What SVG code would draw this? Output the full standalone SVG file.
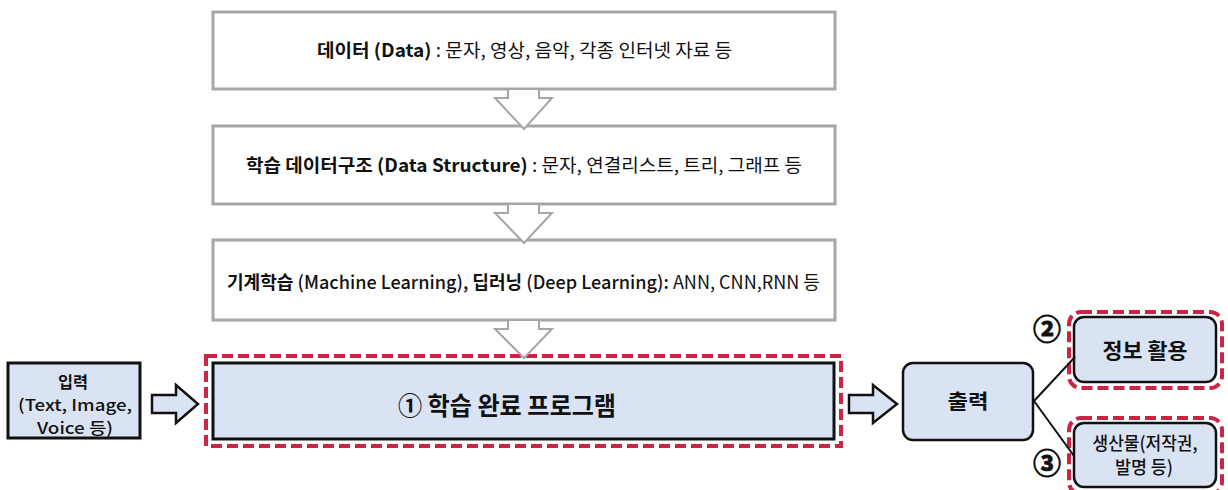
<svg xmlns="http://www.w3.org/2000/svg" width="1228" height="490" viewBox="0 0 1228 490">
  <style>
    text { font-family: "Noto Sans CJK KR", "Noto Sans", sans-serif; fill: #111; }
    .b { font-weight: 700; }
    .m { font-weight: 500; }
    .r { font-weight: 400; }
    .num { font-weight: 700; stroke: #111; stroke-width: 0.9; }
    .stage { fill: #ffffff; stroke: #a6a6a6; stroke-width: 3; }
    .down { fill: #ffffff; stroke: #a6a6a6; stroke-width: 2; stroke-linejoin: miter; }
    .blue { fill: #dae3f3; stroke: #111; stroke-width: 3; }
    .blueR { fill: #dae3f3; stroke: #111; stroke-width: 2.5; }
    .hl { fill: none; stroke: #cc2446; stroke-width: 4; stroke-dasharray: 11 5; }
    .fat { fill: #dae3f3; stroke: #111; stroke-width: 2.5; stroke-linejoin: miter; }
    .link { stroke: #111; stroke-width: 2; fill: none; }
  </style>

  <!-- stage 1: data -->
  <g id="node-data">
    <rect class="stage" x="213" y="12" width="622" height="77"/>
    <text x="317" y="57" font-size="18" textLength="415" lengthAdjust="spacingAndGlyphs"><tspan class="b">데이터 (Data)</tspan><tspan class="r"> : 문자, 영상, 음악, 각종 인터넷 자료 등</tspan></text>
  </g>

  <!-- stage 2: data structure -->
  <g id="node-structure">
    <rect class="stage" x="213" y="126" width="622" height="78"/>
    <text x="246" y="172" font-size="18" textLength="556" lengthAdjust="spacingAndGlyphs"><tspan class="b">학습 데이터구조 (Data Structure)</tspan><tspan class="r"> : 문자, 연결리스트, 트리, 그래프 등</tspan></text>
  </g>

  <!-- stage 3: learning methods -->
  <g id="node-learning">
    <rect class="stage" x="213" y="240" width="622" height="80"/>
    <text x="227" y="289" font-size="18" textLength="593" lengthAdjust="spacingAndGlyphs"><tspan class="b">기계학습</tspan><tspan class="m"> (Machine Learning), </tspan><tspan class="b">딥러닝</tspan><tspan class="m"> (Deep Learning):</tspan><tspan class="r"> ANN, CNN,RNN 등</tspan></text>
  </g>

  <!-- input -->
  <g id="node-input">
    <rect class="blue" x="8" y="363" width="132" height="75"/>
    <text class="b" x="73" y="388" font-size="16" text-anchor="middle" textLength="30" lengthAdjust="spacingAndGlyphs">입력</text>
    <text class="m" x="75" y="411" font-size="16" text-anchor="middle" textLength="114" lengthAdjust="spacingAndGlyphs">(Text, Image,</text>
    <text class="m" x="75" y="434" font-size="16" text-anchor="middle" textLength="76" lengthAdjust="spacingAndGlyphs">Voice 등)</text>
  </g>

  <!-- trained program -->
  <g id="node-program">
    <rect class="blue" x="213" y="363" width="621" height="76"/>
    <rect class="hl" x="206" y="356" width="635" height="90"/>
    <text class="b" x="398" y="415" font-size="25" textLength="218" lengthAdjust="spacingAndGlyphs">① 학습 완료 프로그램</text>
  </g>

  <!-- output -->
  <g id="node-output">
    <rect class="blueR" x="903" y="363" width="130" height="77" rx="10"/>
    <text class="b" x="968" y="409" font-size="20" text-anchor="middle" textLength="41" lengthAdjust="spacingAndGlyphs">출력</text>
  </g>

  <!-- use of information -->
  <g id="node-info">
    <rect class="blueR" x="1074" y="317" width="142" height="65" rx="10"/>
    <rect class="hl" x="1069" y="312" width="153" height="76" rx="12" stroke-width="3.5"/>
    <text class="b" x="1145" y="358" font-size="21" text-anchor="middle" textLength="85" lengthAdjust="spacingAndGlyphs">정보 활용</text>
    <text class="num" x="1047" y="340" font-size="28" text-anchor="middle">②</text>
  </g>

  <!-- products -->
  <g id="node-product">
    <rect class="blueR" x="1074" y="423" width="142" height="64" rx="10"/>
    <rect class="hl" x="1069" y="418" width="153" height="76" rx="12" stroke-width="3.5"/>
    <text class="m" x="1145" y="450" font-size="18" text-anchor="middle" textLength="105" lengthAdjust="spacingAndGlyphs">생산물(저작권,</text>
    <text class="m" x="1144" y="474" font-size="18" text-anchor="middle" textLength="58" lengthAdjust="spacingAndGlyphs">발명 등)</text>
    <text class="num" x="1047" y="474" font-size="28" text-anchor="middle">③</text>
  </g>

  <!-- connectors -->
  <g id="connectors">
    <polygon class="down" points="508,89 539,89 539,98 552,98 524,129 495,98 508,98"/>
    <polygon class="down" points="508,204 539,204 539,213 552,213 524,243 495,213 508,213"/>
    <polygon class="down" points="508,320 539,320 539,329 552,329 524,358 495,329 508,329"/>
    <polygon class="fat" points="152,395 176,395 176,385 198,404 176,423 176,413 152,413"/>
    <polygon class="fat" points="849,395 873,395 873,385 897,404 873,423 873,413 849,413"/>
    <line class="link" x1="1034" y1="401" x2="1075" y2="357"/>
    <line class="link" x1="1034" y1="401" x2="1074" y2="456"/>
  </g>
</svg>
